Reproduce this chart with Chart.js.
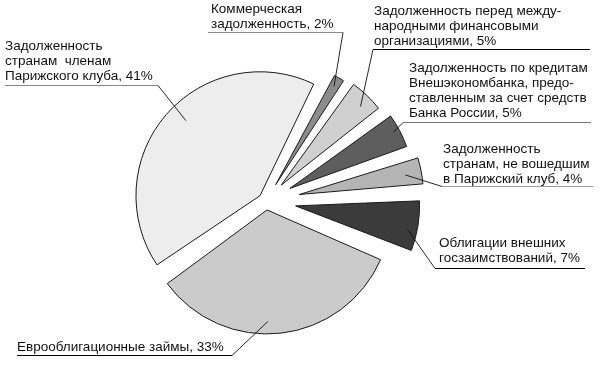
<!DOCTYPE html>
<html>
<head>
<meta charset="utf-8">
<script src="https://cdn.jsdelivr.net/npm/chart.js@4"></script>
<style>
  html, body { margin: 0; padding: 0; background: #fff; }
  canvas { display: block; }
</style>
</head>
<body>
<canvas id="debt-chart" width="600" height="366"></canvas>
<script>
// Structure of external debt, % (clockwise from the top)
const categories = [
    'Коммерческая задолженность',
    'Задолженность перед международными финансовыми организациями',
    'Задолженность по кредитам Внешэкономбанка, предоставленным за счет средств Банка России',
    'Задолженность странам, не вошедшим в Парижский клуб',
    'Облигации внешних госзаимствований',
    'Еврооблигационные займы',
    'Задолженность странам членам Парижского клуба'
];
const shares = [2, 5, 5, 4, 7, 33, 41];

// label text split in lines, the percent is added to the last line
const labelLines = [
    ['Коммерческая', 'задолженность,'],
    ['Задолженность перед между-', 'народными финансовыми', 'организациями,'],
    ['Задолженность по кредитам', 'Внешэкономбанка, предо-', 'ставленным за счет средств', 'Банка России,'],
    ['Задолженность', 'странам, не вошедшим', 'в Парижский клуб,'],
    ['Облигации внешних', 'госзаимствований,'],
    ['Еврооблигационные займы,'],
    ['Задолженность', 'странам  членам', 'Парижского клуба,']
];

const sliceColors = ['#8c8c8c', '#d0d0d0', '#5e5e5e', '#b5b5b5', '#3b3b3b', '#cbcbcb', '#ededed'];

// how far each slice is pulled out, px
const explode = [19, 22, 27, 34, 30, 9, 8];
const gapDeg = 2.6;
const lineHeight = 15;

// where the callouts go: text pos, underline, leader end inside slice (f = angle share, k = radius share)
const labelBoxes = [
    { x: 211, y: 13, line: 32.5, x0: 208, x1: 343, from: 'r', color: '#8a8a8a', f: 0.5, k: 0.92 },
    { x: 374, y: 15, line: 49.5, x0: 373, x1: 590, from: 'l', color: '#000', f: 0.6, k: 0.9 },
    { x: 409, y: 72, line: 122.5, x0: 403, x1: 591, from: 'l', color: '#777', f: 0.45, k: 0.95 },
    { x: 443, y: 153, line: 186.5, x0: 442, x1: 593, from: 'l', color: '#999', f: 0.55, k: 0.87 },
    { x: 439, y: 247, line: 268.5, x0: 435, x1: 585, from: 'l', color: '#000', f: 0.6, k: 0.92 },
    { x: 17, y: 351, line: 355.5, x0: 17, x1: 232, from: 'r', color: '#000', f: 0.55, k: 0.9 },
    { x: 5, y: 50, line: 85.5, x0: 5, x1: 158, from: 'r', color: '#888', f: 0.53, k: 0.85 }
];

// pull slices apart and leave a small wedge gap between them
const explodePlugin = {
    id: 'explode',
    afterDatasetsUpdate(chart) {
        const half = gapDeg * Math.PI / 180 / 2;
        chart.getDatasetMeta(0).data.forEach((arc, i) => {
            const mid = (arc.startAngle + arc.endAngle) / 2;
            arc.startAngle += half;
            arc.endAngle -= half;
            arc.x += Math.cos(mid) * explode[i];
            arc.y += Math.sin(mid) * explode[i];
        });
    }
};

// callout texts with underline and leader line
const calloutPlugin = {
    id: 'callouts',
    afterDraw(chart) {
        const ctx = chart.ctx;
        const arcs = chart.getDatasetMeta(0).data;
        ctx.save();
        ctx.font = '13.5px "Liberation Sans", Arial, sans-serif';
        ctx.fillStyle = '#111';
        ctx.textBaseline = 'alphabetic';
        labelBoxes.forEach((b, i) => {
            const lines = labelLines[i].slice();
            lines[lines.length - 1] += ' ' + shares[i] + '%';
            lines.forEach((t, j) => ctx.fillText(t, b.x, b.y + j * lineHeight));

            ctx.strokeStyle = b.color;
            ctx.lineWidth = 1;
            ctx.beginPath();
            ctx.moveTo(b.x0, b.line);
            ctx.lineTo(b.x1, b.line);
            ctx.stroke();

            const arc = arcs[i];
            const a = arc.startAngle + b.f * (arc.endAngle - arc.startAngle);
            const r = b.k * arc.outerRadius;
            ctx.strokeStyle = '#111';
            ctx.lineWidth = 0.9;
            ctx.beginPath();
            ctx.moveTo(b.from === 'l' ? b.x0 : b.x1, b.line);
            ctx.lineTo(arc.x + Math.cos(a) * r, arc.y + Math.sin(a) * r);
            ctx.stroke();
        });
        ctx.restore();
    }
};

new Chart(document.getElementById('debt-chart').getContext('2d'), {
    type: 'pie',
    data: {
        labels: categories,
        datasets: [{
            data: shares,
            backgroundColor: sliceColors,
            borderColor: '#1a1a1a',
            borderWidth: 1,
            borderJoinStyle: 'miter'
        }]
    },
    options: {
        responsive: false,
        animation: false,
        radius: 124,
        rotation: 27,
        layout: {
            padding: { left: 0, right: 68, top: 36, bottom: 0 }
        },
        plugins: {
            legend: { display: false },
            tooltip: { enabled: false }
        }
    },
    plugins: [explodePlugin, calloutPlugin]
});
</script>
</body>
</html>
